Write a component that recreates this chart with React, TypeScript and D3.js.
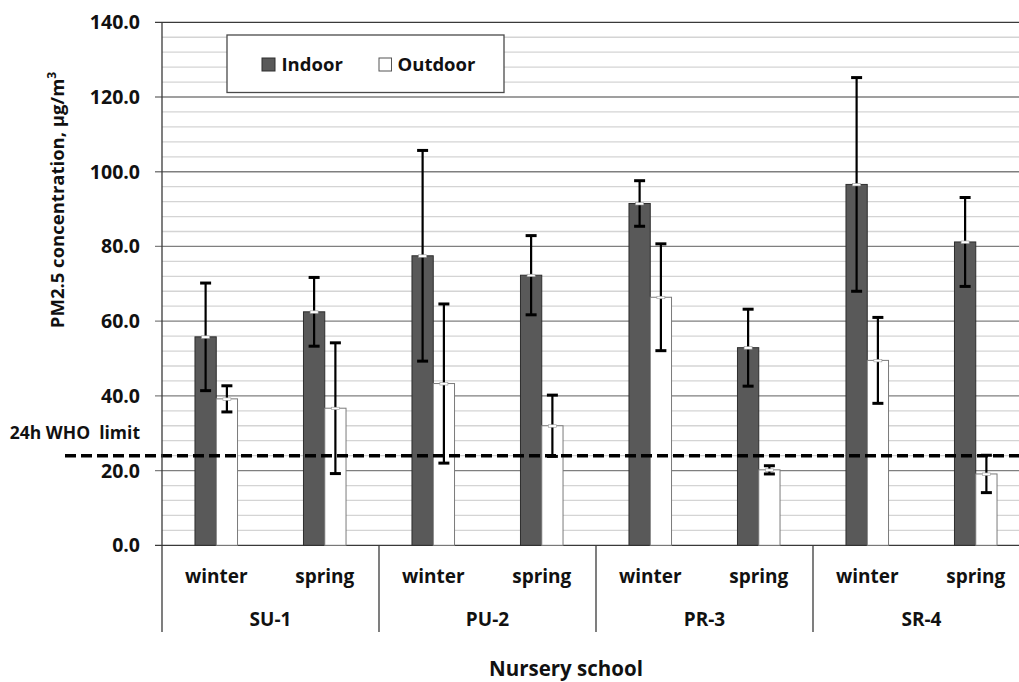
import React from "react";
import * as d3 from "d3";

// nursery schools (upper level) and seasons (lower level)
const schools = ["SU-1", "PU-2", "PR-3", "SR-4"];
const seasons = ["winter", "spring"];
const series = ["Indoor", "Outdoor"];

// mean PM2.5 per school/season, in order SU-1 winter, SU-1 spring, PU-2 winter ...
const indoorMean = [55.8, 62.5, 77.5, 72.3, 91.5, 52.9, 96.6, 81.2];
const indoorSd = [14.4, 9.2, 28.2, 10.6, 6.1, 10.3, 28.6, 11.9];
const outdoorMean = [39.2, 36.7, 43.3, 32.0, 66.4, 20.2, 49.5, 19.1];
const outdoorSd = [3.5, 17.5, 21.3, 8.2, 14.3, 1.1, 11.5, 5.0];

const yTicks = [0, 20, 40, 60, 80, 100, 120, 140];
const whoLimit = 24;

const W = 1019;
const H = 682;
const left = 162;
const right = 1030;
const top = 22.3;
const bottom = 545.3;
const font = "'Open Sans', sans-serif";

export default function App() {
  const y = d3.scaleLinear().domain([0, 140]).range([bottom, top]);
  const xGroup = d3.scaleBand<string>().domain(schools).range([left, right]);
  const xSeason = d3.scaleBand<string>().domain(seasons).range([0, xGroup.bandwidth()]);
  const xBar = d3
    .scaleBand<string>()
    .domain(series)
    .range([0, xSeason.bandwidth()])
    .paddingInner(0)
    .paddingOuter(1.55);

  const minor = d3.range(0, 141, 4).filter((v) => v % 20 !== 0);

  const cells: { school: string; season: string; i: number }[] = [];
  schools.forEach((s, si) =>
    seasons.forEach((se, ji) => cells.push({ school: s, season: se, i: si * 2 + ji }))
  );

  const bars: any[] = [];
  cells.forEach((c) => {
    const x0 = (xGroup(c.school) as number) + (xSeason(c.season) as number);
    bars.push({ key: "in" + c.i, x: x0 + (xBar("Indoor") as number), v: indoorMean[c.i], sd: indoorSd[c.i], fill: "#595959", stroke: "#2e2e2e" });
    bars.push({ key: "out" + c.i, x: x0 + (xBar("Outdoor") as number), v: outdoorMean[c.i], sd: outdoorSd[c.i], fill: "#ffffff", stroke: "#7a7a7a" });
  });
  const bw = xBar.bandwidth();

  return (
    <svg width={W} height={H} style={{ position: "absolute", left: 0, top: 0, background: "#fff" }} fontFamily={font}>
      {/* gridlines */}
      {minor.map((v) => (
        <line key={"m" + v} x1={left} x2={right} y1={y(v)} y2={y(v)} stroke="#d4d4d4" strokeWidth={1.3} />
      ))}
      {yTicks.map((v) => (
        <line key={"g" + v} x1={left - 7} x2={right} y1={y(v)} y2={y(v)} stroke={v === 0 || v === 140 ? "#3a3a3a" : "#7f7f7f"} strokeWidth={1.3} />
      ))}

      {/* bars */}
      {bars.map((b) => (
        <rect key={b.key} x={b.x} y={y(b.v)} width={bw} height={bottom - y(b.v)} fill={b.fill} stroke={b.stroke} strokeWidth={1} />
      ))}

      {/* WHO limit */}
      <line x1={65} x2={W} y1={y(whoLimit)} y2={y(whoLimit)} stroke="#000" strokeWidth={3.5} strokeDasharray="11,5" />
      <text x={140} y={y(whoLimit) - 17} textAnchor="end" fontSize={17.5} fontWeight="bold" fill="#111" style={{ whiteSpace: "pre" }}>
        {"24h WHO  limit"}
      </text>

      {/* error bars */}
      {bars.map((b) => {
        const cx = b.x + bw / 2;
        return (
          <g key={"e" + b.key}>
            <line x1={cx} x2={cx} y1={y(b.v + b.sd)} y2={y(b.v - b.sd)} stroke="#000" strokeWidth={2.2} />
            <line x1={cx - 5.5} x2={cx + 5.5} y1={y(b.v + b.sd)} y2={y(b.v + b.sd)} stroke="#000" strokeWidth={3} />
            <line x1={cx - 5.5} x2={cx + 5.5} y1={y(b.v - b.sd)} y2={y(b.v - b.sd)} stroke="#000" strokeWidth={3} />
            <rect x={cx - 4} y={y(b.v) - 1} width={8} height={2.5} fill="#fff" stroke="#9a9a9a" strokeWidth={0.6} />
          </g>
        );
      })}

      {/* axes */}
      <line x1={left} x2={left} y1={top} y2={632} stroke="#3a3a3a" strokeWidth={1.3} />
      {schools.slice(1).map((s) => (
        <line key={"sep" + s} x1={xGroup(s) as number} x2={xGroup(s) as number} y1={bottom} y2={632} stroke="#3a3a3a" strokeWidth={1.3} />
      ))}
      {yTicks.map((v) => (
        <text key={"t" + v} x={140} y={y(v)} dy="0.36em" textAnchor="end" fontSize={19.5} fontWeight="bold" fill="#111">
          {v.toFixed(1)}
        </text>
      ))}
      {cells.map((c) => (
        <text key={"s" + c.i} x={(xGroup(c.school) as number) + (xSeason(c.season) as number) + xSeason.bandwidth() / 2} y={583} textAnchor="middle" fontSize={19} fontWeight="bold" fill="#111">
          {c.season}
        </text>
      ))}
      {schools.map((s) => (
        <text key={"l" + s} x={(xGroup(s) as number) + xGroup.bandwidth() / 2} y={626} textAnchor="middle" fontSize={19} fontWeight="bold" fill="#111">
          {s}
        </text>
      ))}
      <text x={566} y={676} textAnchor="middle" fontSize={20.5} fontWeight="bold" fill="#111">
        Nursery school
      </text>
      <text transform="translate(64,200) rotate(-90)" textAnchor="middle" fontSize={18.5} fontWeight="bold" fill="#111">
        PM2.5 concentration, µg/m<tspan dy={-8} fontSize={12}>3</tspan>
      </text>

      {/* legend */}
      <rect x={227} y={35} width={277} height={57.5} fill="#fff" stroke="#4a4a4a" strokeWidth={1.3} />
      <rect x={262} y={58} width={13} height={13} fill="#595959" stroke="#2e2e2e" />
      <text x={281.5} y={71} fontSize={18.5} fontWeight="bold" fill="#111">Indoor</text>
      <rect x={379} y={58} width={12.5} height={13} fill="#fff" stroke="#555" />
      <text x={397.5} y={71} fontSize={18.5} fontWeight="bold" fill="#111">Outdoor</text>
    </svg>
  );
}
